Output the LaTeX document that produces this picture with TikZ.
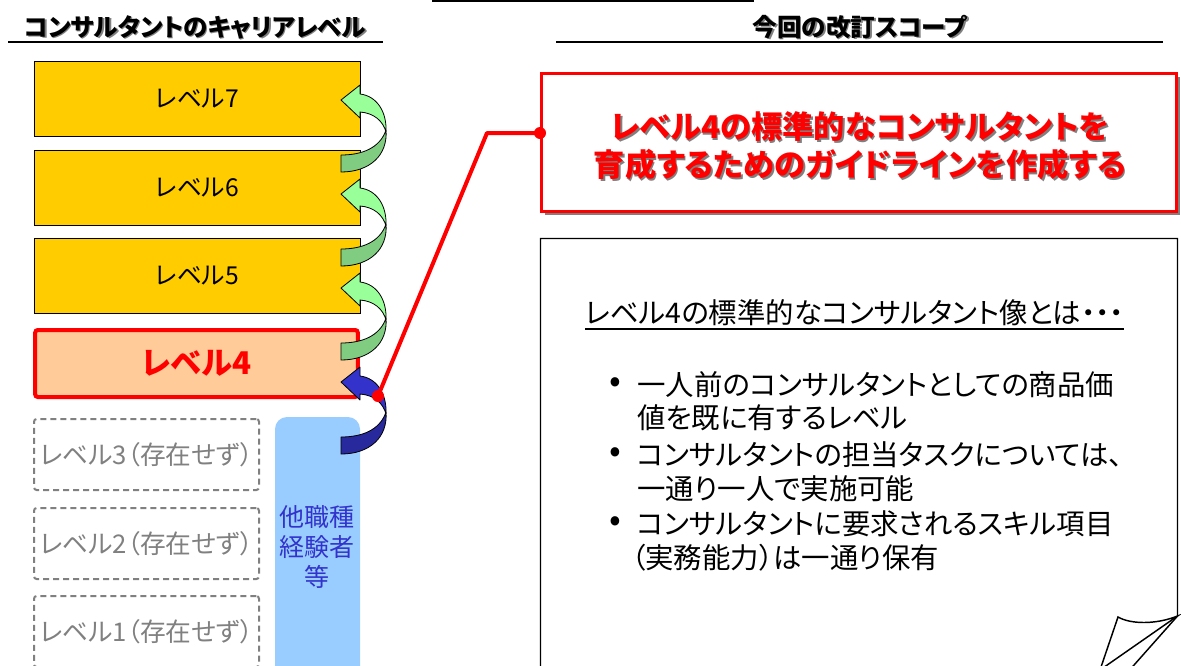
\documentclass[tikz,border=0pt]{standalone}
\usepackage{fontspec}
\setmainfont{Noto Sans CJK JP}[RawFeature=+palt]
\usetikzlibrary{shadows}
\definecolor{lvlfill}{HTML}{FFCC00}
\definecolor{lvlfour}{HTML}{FFCC99}
\definecolor{ghostgray}{HTML}{808080}
\definecolor{otherblue}{HTML}{99CCFF}
\definecolor{othertext}{HTML}{3333CC}
\definecolor{greenlight}{HTML}{99FF99}
\definecolor{greendark}{HTML}{80CC80}
\definecolor{bluelight}{HTML}{3333CC}
\definecolor{bluedark}{HTML}{29299E}
\definecolor{redc}{HTML}{FF0000}
\newcommand{\curvarr}[3]{%
  \begin{scope}[shift={(0,#1)}]
    \draw[arrline, fill=#3] (386,30) .. controls (388,55) and (370,72) .. (341,72)
      -- (341,55) .. controls (362,55) and (380,48) .. (386,30) -- cycle;
    \draw[arrline, fill=#2] (341,0) -- (360,-15) -- (360,-6)
      .. controls (377,-4) and (387,12) .. (386,32)
      .. controls (383,21) and (374,13) .. (360,12) -- (360,18) -- cycle;
  \end{scope}}
\begin{document}
\begin{tikzpicture}[x=0.75pt,y=-0.75pt,
  arrline/.style={draw=black, line width=0.6pt, line join=round},
  lvl/.style={draw=black, line width=0.75pt, fill=lvlfill, minimum width=244.5pt, minimum height=56.25pt, inner sep=0pt, font=\fontsize{18.5pt}{20pt}\selectfont},
  ghost/.style={draw=ghostgray, line width=1.5pt, dash pattern=on 4.5pt off 3pt, rounded corners=2pt, minimum width=168.75pt, minimum height=53.25pt, inner sep=0pt, text=ghostgray, font=\fontsize{19.3pt}{21pt}\selectfont},
  titletext/.style={font=\fontsize{18.4pt}{20pt}\selectfont\bfseries, inner sep=0pt},
  bodytext/.style={font=\fontsize{21.3pt}{24pt}\selectfont, inner sep=0pt, anchor=west},
]
\useasboundingbox (0,0) rectangle (1181,665);
% top rules and titles
\draw[line width=1.5pt] (432,1) -- (754,1);
\node[titletext, text=ghostgray] at (196.5,28.5) {コンサルタントのキャリアレベル};
\node[titletext] (lt) at (195,27) {コンサルタントのキャリアレベル};
\draw[line width=1.5pt] (8,42) -- (383,42);
\node[titletext, text=ghostgray] at (861.5,28.5) {今回の改訂スコープ};
\node[titletext] (rt) at (860,27) {今回の改訂スコープ};
\draw[line width=1.5pt] (556,42) -- (1163,42);
% level boxes
\node[lvl] (l7) at (197,98.5) {レベル7};
\node[lvl] (l6) at (197,187.5) {レベル6};
\node[lvl] (l5) at (197,276) {レベル5};
\node[draw=redc, line width=3pt, fill=lvlfour, rounded corners=2pt, minimum width=242pt, minimum height=50.25pt, inner sep=0pt, text=redc, font=\fontsize{23.5pt}{26pt}\selectfont\bfseries] (l4) at (196.5,363.5) {\raisebox{-2pt}{レベル4}};
\node[ghost] (l3) at (146.5,454.5) {レベル3（存在せず）};
\node[ghost] (l2) at (146.5,543.5) {レベル2（存在せず）};
\node[ghost] (l1) at (146.5,631.5) {レベル1（存在せず）};
% other-profession box
\fill[otherblue, rounded corners=9pt] (275,417) rectangle (360,720);
\node[text=othertext, align=center, font=\fontsize{18.75pt}{22.5pt}\selectfont, inner sep=0pt] (oth) at (317,547) {他職種\\経験者\\等};
% curved arrows
\curvarr{100}{greenlight}{greendark}
\curvarr{194}{greenlight}{greendark}
\curvarr{288}{greenlight}{greendark}
\curvarr{382}{bluelight}{bluedark}
% goal box
\node[draw=redc, line width=2.25pt, fill=white, minimum width=476.25pt, minimum height=103.5pt, inner sep=0pt,
  drop shadow={shadow xshift=2.5pt, shadow yshift=-2.5pt, fill=ghostgray, opacity=1}] (goal) at (859,142.5) {};
\node[text=ghostgray, align=center, font=\fontsize{23.5pt}{28.5pt}\selectfont\bfseries, inner sep=0pt] at (861.5,147.5) {レベル4の標準的なコンサルタントを\\育成するためのガイドラインを作成する};
\node[text=redc, align=center, font=\fontsize{23.5pt}{28.5pt}\selectfont\bfseries, inner sep=0pt] (goaltext) at (860,146) {レベル4の標準的なコンサルタントを\\育成するためのガイドラインを作成する};
% connector
\coordinate (c0) at (378,396);
\coordinate (c1) at (487,133);
\coordinate (c2) at (540,133);
\draw[redc, line width=3pt, line join=round] (c0) -- (c1) -- (c2);
\fill[redc] (c0) circle (4.5pt);
\fill[redc] (c2) circle (4.5pt);
% description box with folded corner
\draw[line width=1.1pt, fill=white] (540.5,700) -- (540.5,238.5) -- (1177.5,238.5) -- (1177.5,616)
  -- (1103,700) -- cycle;
\draw[line width=1.1pt, fill=white] (1177.5,616) .. controls (1155,625) and (1130,624) .. (1118,617) -- (1100,670) -- cycle;
\node[bodytext] (head) at (585,313) {レベル4の標準的なコンサルタント像とは・・・};
\draw[line width=1.1pt] ([yshift=-2pt]head.south west) -- ([yshift=-2pt]head.south east);
\node[bodytext, font=\fontsize{26pt}{26pt}\selectfont] (b1) at (609,385) {•};
\node[bodytext] (t1a) at (637,385) {一人前のコンサルタントとしての商品価};
\node[bodytext] (t1b) at (637,418) {値を既に有するレベル};
\node[bodytext, font=\fontsize{26pt}{26pt}\selectfont] (b2) at (609,455) {•};
\node[bodytext] (t2a) at (637,455) {コンサルタントの担当タスクについては、};
\node[bodytext] (t2b) at (637,489) {一通り一人で実施可能};
\node[bodytext, font=\fontsize{26pt}{26pt}\selectfont] (b3) at (609,524) {•};
\node[bodytext] (t3a) at (637,524) {コンサルタントに要求されるスキル項目};
\node[bodytext] (t3b) at (631,558) {（実務能力）は一通り保有};
\end{tikzpicture}
\end{document}
